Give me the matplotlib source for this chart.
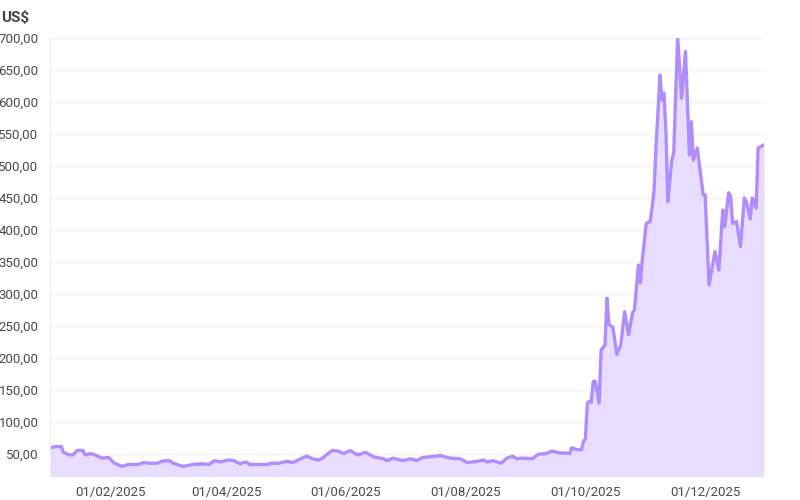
import matplotlib.pyplot as plt
import matplotlib.dates as mdates
import matplotlib.ticker as mticker
import pandas as pd

# price series (US$)
dates = [
    "2025-01-01", "2025-01-04", "2025-01-07", "2025-01-08", "2025-01-11", "2025-01-13",
    "2025-01-15", "2025-01-18", "2025-01-19", "2025-01-22", "2025-01-24", "2025-01-28",
    "2025-01-31", "2025-02-03", "2025-02-07", "2025-02-10", "2025-02-15", "2025-02-18",
    "2025-02-21", "2025-02-25", "2025-02-27", "2025-03-03", "2025-03-05", "2025-03-10",
    "2025-03-15", "2025-03-20", "2025-03-23", "2025-03-26", "2025-03-29", "2025-04-02",
    "2025-04-05", "2025-04-08", "2025-04-11", "2025-04-13", "2025-04-22", "2025-04-24",
    "2025-04-28", "2025-05-02", "2025-05-05", "2025-05-09", "2025-05-12", "2025-05-15",
    "2025-05-18", "2025-05-20", "2025-05-22", "2025-05-25", "2025-05-28", "2025-05-31",
    "2025-06-03", "2025-06-07", "2025-06-11", "2025-06-15", "2025-06-20", "2025-06-22",
    "2025-06-25", "2025-06-30", "2025-07-04", "2025-07-07", "2025-07-10", "2025-07-14",
    "2025-07-19", "2025-07-24", "2025-07-29", "2025-08-02", "2025-08-07", "2025-08-10",
    "2025-08-12", "2025-08-15", "2025-08-19", "2025-08-22", "2025-08-25", "2025-08-27",
    "2025-08-30", "2025-09-04", "2025-09-07", "2025-09-11", "2025-09-14", "2025-09-18",
    "2025-09-21", "2025-09-23", "2025-09-24", "2025-09-27", "2025-09-29", "2025-09-30",
    "2025-10-01", "2025-10-02", "2025-10-03", "2025-10-04", "2025-10-05", "2025-10-06",
    "2025-10-08", "2025-10-09", "2025-10-11", "2025-10-12", "2025-10-13", "2025-10-15",
    "2025-10-17", "2025-10-19", "2025-10-21", "2025-10-23", "2025-10-25", "2025-10-26",
    "2025-10-28", "2025-10-29", "2025-10-30", "2025-11-01", "2025-11-03", "2025-11-04",
    "2025-11-05", "2025-11-06", "2025-11-08", "2025-11-09", "2025-11-10", "2025-11-11",
    "2025-11-12", "2025-11-14", "2025-11-15", "2025-11-17", "2025-11-19", "2025-11-21",
    "2025-11-23", "2025-11-24", "2025-11-25", "2025-11-27", "2025-11-30", "2025-12-01",
    "2025-12-03", "2025-12-06", "2025-12-08", "2025-12-10", "2025-12-11", "2025-12-13",
    "2025-12-14", "2025-12-15", "2025-12-17", "2025-12-19", "2025-12-21", "2025-12-22",
    "2025-12-24", "2025-12-25", "2025-12-27", "2025-12-28", "2025-12-31",
]
prices = [
    59, 61, 61, 52, 48, 48,
    55, 55, 48, 50, 48, 43,
    44, 35, 30, 33, 33, 36,
    35, 35, 38, 39, 35, 30,
    33, 34, 33, 39, 37, 40,
    39, 34, 37, 33, 33, 35,
    35, 38, 36, 42, 46, 42,
    40, 43, 48, 55, 54, 50,
    55, 48, 52, 45, 42, 39,
    43, 39, 42, 39, 44, 45,
    47, 43, 42, 36, 38, 40,
    37, 39, 35, 43, 46, 42,
    43, 42, 49, 50, 54, 51,
    51, 50, 59, 56, 56, 69,
    73, 129, 132, 130, 163, 163,
    129, 212, 220, 293, 252, 248,
    205, 220, 272, 236, 270, 275,
    345, 317, 353, 410, 413, 436,
    462, 530, 642, 603, 614, 556,
    444, 509, 520, 702, 606, 679,
    517, 569, 509, 528, 455, 455,
    314, 366, 337, 431, 405, 458,
    452, 410, 413, 374, 450, 444,
    417, 450, 434, 528, 533,
]
tick_dates = ["2025-02-01", "2025-04-01", "2025-06-01", "2025-08-01", "2025-10-01", "2025-12-01"]
y_ticks = list(range(50, 701, 50))

x = pd.to_datetime(dates)

fig = plt.figure(figsize=(8, 5), dpi=100)
ax = fig.add_axes([0.062, 0.048, 0.893, 0.876])

ax.fill_between(x, prices, 0, color="#e7deff", lw=0)
ax.plot(x, prices, color="#b08cff", lw=2.4, solid_joinstyle="round", solid_capstyle="round")

ax.set_xlim(x[0], x[-1])
ax.set_ylim(15, 700)
ax.set_yticks(y_ticks)
ax.yaxis.set_major_formatter(mticker.FuncFormatter(lambda v, p: f"{v:.2f}".replace(".", ",")))
ax.set_xticks(pd.to_datetime(tick_dates))
ax.xaxis.set_major_formatter(mdates.DateFormatter("%d/%m/%Y"))

ax.grid(axis="y", color="#f2f2f2", lw=1)
ax.set_axisbelow(True)
for s in ["top", "right", "bottom"]:
    ax.spines[s].set_visible(False)
ax.spines["left"].set_color("#eeeeee")
ax.tick_params(axis="both", length=0, labelsize=9.5, labelcolor="#4a4a4a")
ax.tick_params(axis="y", pad=8)
ax.tick_params(axis="x", pad=7)
for lbl in ax.get_xticklabels() + ax.get_yticklabels():
    lbl.set_fontfamily("Roboto")

fig.text(0.002, 0.963, "US$", fontsize=11, fontweight="bold", color="#444444",
         family="Roboto", va="center", ha="left")

fig.savefig("out.png", dpi=100)
